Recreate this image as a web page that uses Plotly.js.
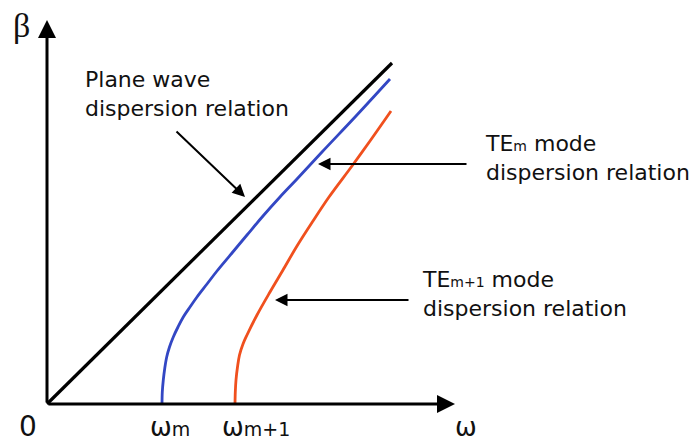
<!DOCTYPE html>
<html><head><meta charset="utf-8">
<script src="https://cdn.plot.ly/plotly-3.0.1.min.js"></script>
<style>html,body{margin:0;padding:0;background:#fff}</style>
</head><body><div id="chart" style="width:699px;height:443px"></div>
<script>
// Plane wave (light line)
const planeOmega = [0, 3.45];
const planeBeta  = [0, 3.41];
// TE_m mode
const teMOmega = [1.150, 1.153, 1.163, 1.178, 1.197, 1.225, 1.263, 1.310, 1.363, 1.430, 1.500, 1.600, 1.700, 1.850, 2.000, 2.160, 2.330, 2.500, 2.750, 3.090, 3.430];
const teMBeta  = [0.00,  0.12,  0.24,  0.36,  0.47,  0.57,  0.67,  0.77,  0.87,  0.97,  1.07,  1.20,  1.33,  1.51,  1.69,  1.88,  2.07,  2.25,  2.52,  2.88,  3.25];
// TE_m+1 mode
const teM1Omega = [1.880, 1.883, 1.890, 1.905, 1.925, 1.960, 2.000, 2.100, 2.230, 2.360, 2.500, 2.660, 2.820, 3.050, 3.230, 3.440];
const teM1Beta  = [0.00,  0.12,  0.24,  0.37,  0.49,  0.60,  0.69,  0.89,  1.12,  1.34,  1.58,  1.83,  2.07,  2.38,  2.63,  2.93];
// labels
const tickLabels = ['0', 'ω<span style="font-size:19px">m</span>', 'ω<span style="font-size:19px">m+1</span>'];
const axisLabelX = 'ω';
const axisLabelY = 'β';
const planeLabel = 'Plane wave<br>dispersion relation';
const teMLabel = 'TE<span style="font-size:14px">m</span> mode<br>dispersion relation';
const teM1Label = 'TE<span style="font-size:14px">m+1</span> mode<br>dispersion relation';

const xEnd = 4.08, yEnd = 3.84;

const traces = [
  {x: planeOmega, y: planeBeta, mode: 'lines', line: {color: '#000000', width: 3.2}, hoverinfo: 'skip'},
  {x: teMOmega, y: teMBeta, mode: 'lines', line: {color: '#3347c4', width: 2.8, shape: 'spline', smoothing: 1}, hoverinfo: 'skip'},
  {x: teM1Omega, y: teM1Beta, mode: 'lines', line: {color: '#f0501e', width: 2.8, shape: 'spline', smoothing: 1}, hoverinfo: 'skip'}
];

const sans = 'DejaVu Sans';
const txt = '#111111';
const ann = [];
// axes with arrows
ann.push({x: xEnd, y: 0, ax: 0, ay: 0, xref: 'x', yref: 'y', axref: 'x', ayref: 'y', text: '', showarrow: true, arrowhead: 2, arrowwidth: 3, arrowsize: 1.2, arrowcolor: '#000'});
ann.push({x: 0, y: yEnd, ax: 0, ay: 0, xref: 'x', yref: 'y', axref: 'x', ayref: 'y', text: '', showarrow: true, arrowhead: 2, arrowwidth: 3, arrowsize: 1.2, arrowcolor: '#000'});
// pointer arrows
ann.push({x: 1.98, y: 2.07, ax: 1.28, ay: 2.74, xref: 'x', yref: 'y', axref: 'x', ayref: 'y', text: '', showarrow: true, arrowhead: 2, arrowwidth: 2, arrowsize: 1.25, arrowcolor: '#000'});
ann.push({x: 2.71, y: 2.40, ax: 4.21, ay: 2.40, xref: 'x', yref: 'y', axref: 'x', ayref: 'y', text: '', showarrow: true, arrowhead: 2, arrowwidth: 2, arrowsize: 1.25, arrowcolor: '#000'});
ann.push({x: 2.28, y: 1.04, ax: 3.63, ay: 1.04, xref: 'x', yref: 'y', axref: 'x', ayref: 'y', text: '', showarrow: true, arrowhead: 2, arrowwidth: 2, arrowsize: 1.25, arrowcolor: '#000'});
// text labels
ann.push({x: 0.36, y: 3.10, xref: 'x', yref: 'y', xanchor: 'left', yanchor: 'middle', align: 'left', showarrow: false, text: planeLabel, font: {family: sans, size: 22, color: txt}});
ann.push({x: 4.36, y: 2.46, xref: 'x', yref: 'y', xanchor: 'left', yanchor: 'middle', align: 'left', showarrow: false, text: teMLabel, font: {family: sans, size: 22, color: txt}});
ann.push({x: 3.73, y: 1.10, xref: 'x', yref: 'y', xanchor: 'left', yanchor: 'middle', align: 'left', showarrow: false, text: teM1Label, font: {family: sans, size: 22, color: txt}});
// tick-like labels
ann.push({x: 0, y: 0, xref: 'x', yref: 'y', xanchor: 'center', yanchor: 'middle', xshift: -19, yshift: -22, showarrow: false, text: tickLabels[0], font: {family: sans, size: 28, color: txt}});
ann.push({x: teMOmega[0], y: 0, xref: 'x', yref: 'y', xanchor: 'left', yanchor: 'middle', xshift: -14, yshift: -23, showarrow: false, text: tickLabels[1], font: {family: sans, size: 26, color: txt}});
ann.push({x: teM1Omega[0], y: 0, xref: 'x', yref: 'y', xanchor: 'left', yanchor: 'middle', xshift: -15, yshift: -23, showarrow: false, text: tickLabels[2], font: {family: sans, size: 26, color: txt}});
ann.push({x: xEnd, y: 0, xref: 'x', yref: 'y', xanchor: 'left', yanchor: 'middle', xshift: -2, yshift: -23, showarrow: false, text: axisLabelX, font: {family: sans, size: 26, color: txt}});
ann.push({x: 0, y: yEnd, xref: 'x', yref: 'y', xanchor: 'center', yanchor: 'middle', xshift: -26, yshift: -5, showarrow: false, text: axisLabelY, font: {family: 'Liberation Serif', size: 34, color: txt}});

const layout = {
  width: 699, height: 443,
  margin: {l: 0, r: 0, t: 0, b: 0},
  paper_bgcolor: '#ffffff', plot_bgcolor: '#ffffff',
  showlegend: false,
  xaxis: {range: [-0.47, 6.52], visible: false, showgrid: false, zeroline: false, fixedrange: true},
  yaxis: {range: [-0.39, 4.04], visible: false, showgrid: false, zeroline: false, fixedrange: true},
  annotations: ann
};
Plotly.newPlot('chart', traces, layout, {staticPlot: true, displayModeBar: false});
</script></body></html>
